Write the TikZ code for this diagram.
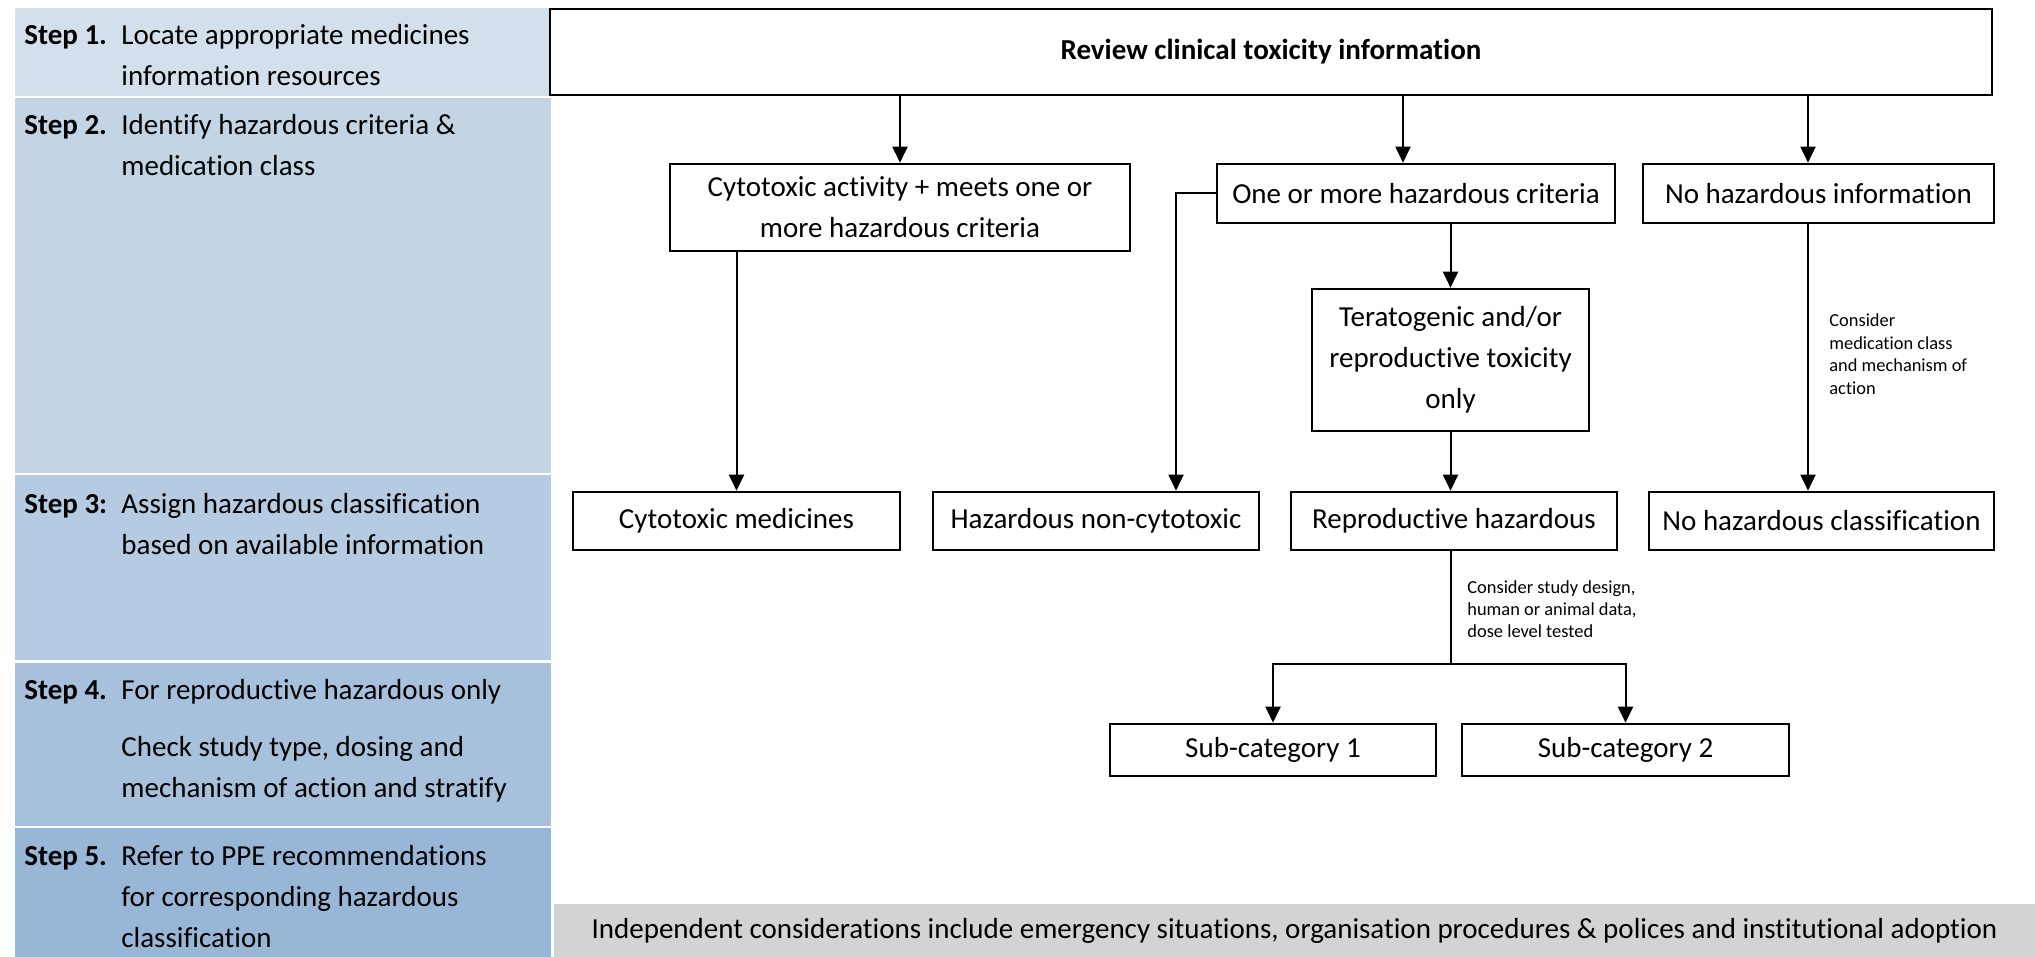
\documentclass[tikz,border=0pt]{standalone}
\usepackage{fontspec}
\setmainfont{Carlito}[Ligatures={NoCommon}]
\usetikzlibrary{arrows.meta,calc}
\definecolor{sA}{RGB}{211,224,236}
\definecolor{sB}{RGB}{195,212,228}
\definecolor{sC}{RGB}{181,203,225}
\definecolor{sD}{RGB}{167,193,220}
\definecolor{sE}{RGB}{152,183,214}
\definecolor{graybox}{RGB}{211,211,211}
\newcommand{\mainf}{\fontsize{14.5}{20.5}\selectfont}
\newcommand{\notef}{\fontsize{9.2}{11.2}\selectfont}
\begin{document}
\begin{tikzpicture}[x=0.5pt,y=-0.5pt,
  box/.style={draw,line width=1.3pt,fill=white,inner sep=0pt,align=center,font=\mainf},
  arr/.style={line width=1pt,-{Triangle[length=8pt,width=7.5pt]}},
  ln/.style={line width=1pt},
  steptext/.style={anchor=base west,inner sep=0pt,font=\mainf},
  note/.style={anchor=base west,inner sep=0pt,font=\notef}]
\useasboundingbox (0,0) rectangle (2035,957);
% step bands
\fill[sA] (15,8) rectangle (551,96);
\fill[sB] (15,98) rectangle (551,473);
\fill[sC] (15,475) rectangle (551,660);
\fill[sD] (15,663) rectangle (551,826);
\fill[sE] (15,828) rectangle (551,957);
% step texts
\node[steptext] (s1) at (24,45) {\begin{tabular}[t]{@{}p{48.5pt}@{}l@{}}\textbf{Step 1.}&Locate appropriate medicines\\&information resources\end{tabular}};
\node[steptext] (s2) at (24,135) {\begin{tabular}[t]{@{}p{48.5pt}@{}l@{}}\textbf{Step 2.}&Identify hazardous criteria \&\\&medication class\end{tabular}};
\node[steptext] (s3) at (24,513) {\begin{tabular}[t]{@{}p{48.5pt}@{}l@{}}\textbf{Step 3:}&Assign hazardous classification\\&based on available information\end{tabular}};
\node[steptext] (s4) at (24,699) {\begin{tabular}[t]{@{}p{48.5pt}@{}l@{}}\textbf{Step 4.}&For reproductive hazardous only\\[8pt]&Check study type, dosing and\\&mechanism of action and stratify\end{tabular}};
\node[steptext] (s5) at (24,865) {\begin{tabular}[t]{@{}p{48.5pt}@{}l@{}}\textbf{Step 5.}&Refer to PPE recommendations\\&for corresponding hazardous\\&classification\end{tabular}};
% boxes
\node[box,minimum width=721pt,minimum height=43pt,font=\mainf\bfseries] (top) at (1271,52) {Review clinical toxicity information};
\node[box,minimum width=230pt,minimum height=43.5pt] (CytoAct) at (900,207.5) {Cytotoxic activity + meets one or\\more hazardous criteria};
\node[box,minimum width=199pt,minimum height=29.5pt] (OneMore) at (1416,193.5) {One or more hazardous criteria};
\node[box,minimum width=175.5pt,minimum height=29.5pt] (NoHazInfo) at (1818.5,193.5) {No hazardous information};
\node[box,minimum width=138.5pt,minimum height=71pt] (Terato) at (1450.5,360) {Teratogenic and/or\\reproductive toxicity\\only};
\node[box,minimum width=163.5pt,minimum height=29pt] (CytoMed) at (736.5,521) {Cytotoxic medicines};
\node[box,minimum width=163pt,minimum height=29pt] (HazNon) at (1096,521) {Hazardous non-cytotoxic};
\node[box,minimum width=163pt,minimum height=29pt] (Repro) at (1454,521) {Reproductive hazardous};
\node[box,minimum width=172.5pt,minimum height=29pt] (NoHazClass) at (1821.5,521) {No hazardous classification};
\node[box,minimum width=163pt,minimum height=26pt] (Sub1) at (1273,750) {Sub-category 1};
\node[box,minimum width=163.5pt,minimum height=26pt] (Sub2) at (1625.5,750) {Sub-category 2};
\node[fill=graybox,inner sep=0pt,minimum width=740.5pt,minimum height=26.5pt,font=\mainf] (indep) at (1294.5,930.5) {Independent considerations include emergency situations, organisation procedures \& polices and institutional adoption};
% helper coordinates
\coordinate (xA) at (1403,0);
\coordinate (xB) at (1808,0);
\coordinate (xC) at (1176,0);
\coordinate (yS) at (0,664);
% connectors
\draw[arr] (CytoAct.north |- top.south) -- (CytoAct.north);
\draw[arr] (xA |- top.south) -- (xA |- OneMore.north);
\draw[arr] (xB |- top.south) -- (xB |- NoHazInfo.north);
\draw[arr] (CytoMed.north |- CytoAct.south) -- (CytoMed.north);
\draw[arr] (OneMore.west) -| (xC |- HazNon.north);
\draw[arr] (Terato.north |- OneMore.south) -- (Terato.north);
\draw[arr] (Terato.south) -- (Terato.south |- Repro.north);
\draw[arr] (xB |- NoHazInfo.south) -- (xB |- NoHazClass.north);
\draw[ln] (Terato.south |- Repro.south) -- (Terato.south |- yS);
\draw[arr] (Terato.south |- yS) -| (Sub1.north);
\draw[arr] (Terato.south |- yS) -| (Sub2.north);
% notes
\node[note] (n1) at (1829,327) {\begin{tabular}[t]{@{}l@{}}Consider\\medication class\\and mechanism of\\action\end{tabular}};
\node[note] (n2) at (1467,593) {\begin{tabular}[t]{@{}l@{}}Consider study design,\\human or animal data,\\dose level tested\end{tabular}};
\end{tikzpicture}
\end{document}
